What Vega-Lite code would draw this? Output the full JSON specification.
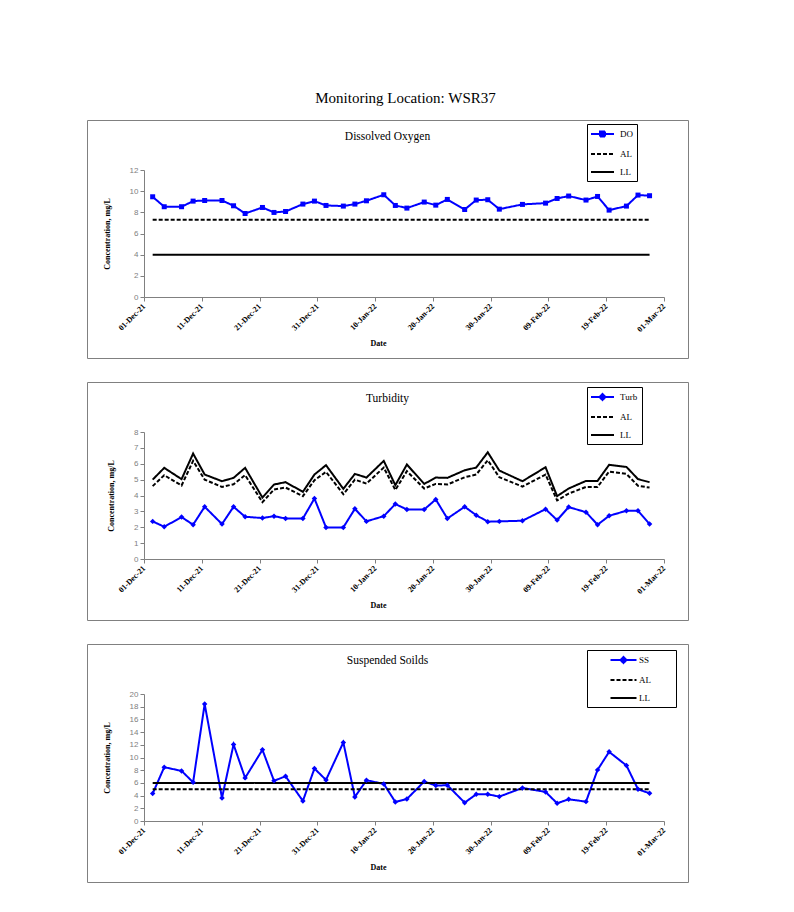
{
 "$schema": "https://vega.github.io/schema/vega-lite/v6.json",
 "background": "white",
 "padding": {"left": 86, "top": 90, "right": 5, "bottom": 5},
 "title": {"text": "Monitoring Location: WSR37", "font": "Liberation Serif", "fontSize": 15, "fontWeight": "normal", "color": "black", "anchor": "middle", "dx": 18, "offset": 14},
 "spacing": 22,
 "resolve": {"scale": {"color": "independent", "strokeDash": "independent", "strokeWidth": "independent", "x": "independent", "y": "independent"}, "legend": {"color": "independent", "strokeDash": "independent"}},
 "config": {"view": {"stroke": "#808080", "strokeWidth": 1}, "axis": {"grid": false}},
 "vconcat": [
  {
   "width": 601, "height": 238,
   "title": {"text": "Dissolved Oxygen", "font": "Liberation Serif", "fontSize": 11.5, "fontWeight": "normal", "color": "black", "anchor": "middle", "frame": "group", "baseline": "middle", "offset": -28},
   "data": {"values": [
    {"date": "2021-12-02T12:00:00", "DO": 9.47, "AL": 7.3, "LL": 4},
    {"date": "2021-12-04T12:00:00", "DO": 8.53, "AL": 7.3, "LL": 4},
    {"date": "2021-12-07T12:00:00", "DO": 8.53, "AL": 7.3, "LL": 4},
    {"date": "2021-12-09T12:00:00", "DO": 9.06, "AL": 7.3, "LL": 4},
    {"date": "2021-12-11T12:00:00", "DO": 9.12, "AL": 7.3, "LL": 4},
    {"date": "2021-12-14T12:00:00", "DO": 9.12, "AL": 7.3, "LL": 4},
    {"date": "2021-12-16T12:00:00", "DO": 8.62, "AL": 7.3, "LL": 4},
    {"date": "2021-12-18T12:00:00", "DO": 7.89, "AL": 7.3, "LL": 4},
    {"date": "2021-12-21T12:00:00", "DO": 8.46, "AL": 7.3, "LL": 4},
    {"date": "2021-12-23T12:00:00", "DO": 7.99, "AL": 7.3, "LL": 4},
    {"date": "2021-12-25T12:00:00", "DO": 8.08, "AL": 7.3, "LL": 4},
    {"date": "2021-12-28T12:00:00", "DO": 8.78, "AL": 7.3, "LL": 4},
    {"date": "2021-12-30T12:00:00", "DO": 9.06, "AL": 7.3, "LL": 4},
    {"date": "2022-01-01T12:00:00", "DO": 8.65, "AL": 7.3, "LL": 4},
    {"date": "2022-01-04T12:00:00", "DO": 8.59, "AL": 7.3, "LL": 4},
    {"date": "2022-01-06T12:00:00", "DO": 8.78, "AL": 7.3, "LL": 4},
    {"date": "2022-01-08T12:00:00", "DO": 9.09, "AL": 7.3, "LL": 4},
    {"date": "2022-01-11T12:00:00", "DO": 9.66, "AL": 7.3, "LL": 4},
    {"date": "2022-01-13T12:00:00", "DO": 8.65, "AL": 7.3, "LL": 4},
    {"date": "2022-01-15T12:00:00", "DO": 8.4, "AL": 7.3, "LL": 4},
    {"date": "2022-01-18T12:00:00", "DO": 8.97, "AL": 7.3, "LL": 4},
    {"date": "2022-01-20T12:00:00", "DO": 8.68, "AL": 7.3, "LL": 4},
    {"date": "2022-01-22T12:00:00", "DO": 9.22, "AL": 7.3, "LL": 4},
    {"date": "2022-01-25T12:00:00", "DO": 8.27, "AL": 7.3, "LL": 4},
    {"date": "2022-01-27T12:00:00", "DO": 9.16, "AL": 7.3, "LL": 4},
    {"date": "2022-01-29T12:00:00", "DO": 9.19, "AL": 7.3, "LL": 4},
    {"date": "2022-01-31T12:00:00", "DO": 8.3, "AL": 7.3, "LL": 4},
    {"date": "2022-02-04T12:00:00", "DO": 8.75, "AL": 7.3, "LL": 4},
    {"date": "2022-02-08T12:00:00", "DO": 8.87, "AL": 7.3, "LL": 4},
    {"date": "2022-02-10T12:00:00", "DO": 9.31, "AL": 7.3, "LL": 4},
    {"date": "2022-02-12T12:00:00", "DO": 9.54, "AL": 7.3, "LL": 4},
    {"date": "2022-02-15T12:00:00", "DO": 9.16, "AL": 7.3, "LL": 4},
    {"date": "2022-02-17T12:00:00", "DO": 9.5, "AL": 7.3, "LL": 4},
    {"date": "2022-02-19T12:00:00", "DO": 8.21, "AL": 7.3, "LL": 4},
    {"date": "2022-02-22T12:00:00", "DO": 8.59, "AL": 7.3, "LL": 4},
    {"date": "2022-02-24T12:00:00", "DO": 9.63, "AL": 7.3, "LL": 4},
    {"date": "2022-02-26T12:00:00", "DO": 9.57, "AL": 7.3, "LL": 4}
   ]},
   "transform": [{"fold": ["DO", "AL", "LL"], "as": ["series", "value"]}],
   "encoding": {
    "x": {"field": "date", "type": "temporal",
     "scale": {"domain": [{"year": 2021, "month": 12, "date": 1}, {"year": 2022, "month": 3, "date": 1}], "range": [57, 577]},
     "axis": {"values": [{"year": 2021, "month": 12, "date": 1}, {"year": 2021, "month": 12, "date": 11}, {"year": 2021, "month": 12, "date": 21}, {"year": 2021, "month": 12, "date": 31}, {"year": 2022, "month": 1, "date": 10}, {"year": 2022, "month": 1, "date": 20}, {"year": 2022, "month": 1, "date": 30}, {"year": 2022, "month": 2, "date": 9}, {"year": 2022, "month": 2, "date": 19}, {"year": 2022, "month": 3, "date": 1}],
      "format": "%d-%b-%y", "labelAngle": -45, "labelAlign": "right", "labelBaseline": "middle", "labelPadding": 4, "labelFont": "Liberation Serif", "labelFontWeight": "bold", "labelFontSize": 8, "labelColor": "black", "labelOverlap": false, "labelFlush": false, "tickSize": 4, "tickColor": "#808080", "domainColor": "#808080", "offset": -61,
      "title": "Date", "titleFont": "Liberation Serif", "titleFontWeight": "bold", "titleFontSize": 8, "titleColor": "black", "titleX": 291, "titleY": 42}},
    "y": {"field": "value", "type": "quantitative",
     "scale": {"domain": [0, 12], "range": [177, 50], "nice": false},
     "axis": {"values": [0, 2, 4, 6, 8, 10, 12], "labelFont": "Liberation Sans", "labelFontSize": 8, "labelColor": "#808080", "tickSize": 4, "tickColor": "#808080", "domainColor": "#808080", "offset": -57,
      "title": "Concentration, mg/L", "titleFont": "Liberation Serif", "titleFontWeight": "bold", "titleFontSize": 8, "titleColor": "black", "titlePadding": 18}}
   },
   "layer": [
    {"mark": {"type": "line"},
     "encoding": {
      "strokeWidth": {"field": "series", "type": "nominal", "scale": {"domain": ["DO", "AL", "LL"], "range": [2, 2, 2.5]}, "legend": null},
      "color": {"field": "series", "type": "nominal", "scale": {"domain": ["DO", "AL", "LL"], "range": ["#0000ff", "black", "black"]},
       "legend": {"orient": "none", "legendX": 500, "legendY": 4, "title": null, "strokeColor": "black", "padding": 4, "symbolSize": 100, "symbolStrokeWidth": 2, "labelOffset": 17, "labelFont": "Liberation Serif", "labelFontSize": 9, "labelColor": "black", "rowPadding": 7,
        "encode": {"symbols": {"update": {"shape": {"signal": "datum.value === 'DO' ? 'M-1.2,0H3.4M0.6,-0.5H1.6V0.5H0.6Z' : 'M-1.2,0H3.4'"}, "fill": {"signal": "datum.value === 'DO' ? '#0000ff' : 'transparent'"}}}}}},
      "strokeDash": {"field": "series", "type": "nominal", "scale": {"domain": ["DO", "AL", "LL"], "range": [[1, 0], [4, 2], [1, 0]]},
       "legend": {"orient": "none", "legendX": 500, "legendY": 4, "title": null, "strokeColor": "black", "padding": 4, "symbolSize": 100, "symbolStrokeWidth": 2, "labelOffset": 17, "labelFont": "Liberation Serif", "labelFontSize": 9, "labelColor": "black", "rowPadding": 7,
        "encode": {"symbols": {"update": {"shape": {"signal": "datum.value === 'DO' ? 'M-1.2,0H3.4M0.6,-0.5H1.6V0.5H0.6Z' : 'M-1.2,0H3.4'"}, "fill": {"signal": "datum.value === 'DO' ? '#0000ff' : 'transparent'"}}}}}}
     }},
    {"transform": [{"filter": "datum.series === 'DO'"}],
     "mark": {"type": "point", "shape": "square", "filled": true, "size": 25, "color": "#0000ff", "opacity": 1}}
   ]
  },
  {
   "width": 601, "height": 238,
   "title": {"text": "Turbidity", "font": "Liberation Serif", "fontSize": 11.5, "fontWeight": "normal", "color": "black", "anchor": "middle", "frame": "group", "baseline": "middle", "offset": -28},
   "data": {"values": [
    {"date": "2021-12-02T12:00:00", "Turb": 2.37, "AL": 4.59, "LL": 5.0},
    {"date": "2021-12-04T12:00:00", "Turb": 2.03, "AL": 5.28, "LL": 5.74},
    {"date": "2021-12-07T12:00:00", "Turb": 2.64, "AL": 4.63, "LL": 5.03},
    {"date": "2021-12-09T12:00:00", "Turb": 2.16, "AL": 6.18, "LL": 6.64},
    {"date": "2021-12-11T12:00:00", "Turb": 3.29, "AL": 5.0, "LL": 5.32},
    {"date": "2021-12-14T12:00:00", "Turb": 2.2, "AL": 4.54, "LL": 4.9},
    {"date": "2021-12-16T12:00:00", "Turb": 3.29, "AL": 4.71, "LL": 5.11},
    {"date": "2021-12-18T12:00:00", "Turb": 2.66, "AL": 5.28, "LL": 5.74},
    {"date": "2021-12-21T12:00:00", "Turb": 2.58, "AL": 3.58, "LL": 3.87},
    {"date": "2021-12-23T12:00:00", "Turb": 2.7, "AL": 4.38, "LL": 4.69},
    {"date": "2021-12-25T12:00:00", "Turb": 2.55, "AL": 4.5, "LL": 4.84},
    {"date": "2021-12-28T12:00:00", "Turb": 2.55, "AL": 3.96, "LL": 4.23},
    {"date": "2021-12-30T12:00:00", "Turb": 3.81, "AL": 4.96, "LL": 5.32},
    {"date": "2022-01-01T12:00:00", "Turb": 1.99, "AL": 5.49, "LL": 5.91},
    {"date": "2022-01-04T12:00:00", "Turb": 1.99, "AL": 4.08, "LL": 4.42},
    {"date": "2022-01-06T12:00:00", "Turb": 3.16, "AL": 5.0, "LL": 5.36},
    {"date": "2022-01-08T12:00:00", "Turb": 2.37, "AL": 4.75, "LL": 5.13},
    {"date": "2022-01-11T12:00:00", "Turb": 2.7, "AL": 5.76, "LL": 6.18},
    {"date": "2022-01-13T12:00:00", "Turb": 3.46, "AL": 4.35, "LL": 4.65},
    {"date": "2022-01-15T12:00:00", "Turb": 3.12, "AL": 5.53, "LL": 5.95},
    {"date": "2022-01-18T12:00:00", "Turb": 3.12, "AL": 4.44, "LL": 4.73},
    {"date": "2022-01-20T12:00:00", "Turb": 3.75, "AL": 4.73, "LL": 5.13},
    {"date": "2022-01-22T12:00:00", "Turb": 2.55, "AL": 4.69, "LL": 5.11},
    {"date": "2022-01-25T12:00:00", "Turb": 3.29, "AL": 5.15, "LL": 5.59},
    {"date": "2022-01-27T12:00:00", "Turb": 2.76, "AL": 5.32, "LL": 5.76},
    {"date": "2022-01-29T12:00:00", "Turb": 2.35, "AL": 6.22, "LL": 6.72},
    {"date": "2022-01-31T12:00:00", "Turb": 2.37, "AL": 5.15, "LL": 5.57},
    {"date": "2022-02-04T12:00:00", "Turb": 2.41, "AL": 4.56, "LL": 4.9},
    {"date": "2022-02-08T12:00:00", "Turb": 3.14, "AL": 5.32, "LL": 5.78},
    {"date": "2022-02-10T12:00:00", "Turb": 2.45, "AL": 3.69, "LL": 3.96},
    {"date": "2022-02-12T12:00:00", "Turb": 3.27, "AL": 4.12, "LL": 4.44},
    {"date": "2022-02-15T12:00:00", "Turb": 2.95, "AL": 4.54, "LL": 4.92},
    {"date": "2022-02-17T12:00:00", "Turb": 2.16, "AL": 4.54, "LL": 4.92},
    {"date": "2022-02-19T12:00:00", "Turb": 2.72, "AL": 5.51, "LL": 5.93},
    {"date": "2022-02-22T12:00:00", "Turb": 3.04, "AL": 5.36, "LL": 5.8},
    {"date": "2022-02-24T12:00:00", "Turb": 3.04, "AL": 4.61, "LL": 5.03},
    {"date": "2022-02-26T12:00:00", "Turb": 2.2, "AL": 4.5, "LL": 4.84}
   ]},
   "transform": [{"fold": ["Turb", "AL", "LL"], "as": ["series", "value"]}],
   "encoding": {
    "x": {"field": "date", "type": "temporal",
     "scale": {"domain": [{"year": 2021, "month": 12, "date": 1}, {"year": 2022, "month": 3, "date": 1}], "range": [57, 577]},
     "axis": {"values": [{"year": 2021, "month": 12, "date": 1}, {"year": 2021, "month": 12, "date": 11}, {"year": 2021, "month": 12, "date": 21}, {"year": 2021, "month": 12, "date": 31}, {"year": 2022, "month": 1, "date": 10}, {"year": 2022, "month": 1, "date": 20}, {"year": 2022, "month": 1, "date": 30}, {"year": 2022, "month": 2, "date": 9}, {"year": 2022, "month": 2, "date": 19}, {"year": 2022, "month": 3, "date": 1}],
      "format": "%d-%b-%y", "labelAngle": -45, "labelAlign": "right", "labelBaseline": "middle", "labelPadding": 4, "labelFont": "Liberation Serif", "labelFontWeight": "bold", "labelFontSize": 8, "labelColor": "black", "labelOverlap": false, "labelFlush": false, "tickSize": 4, "tickColor": "#808080", "domainColor": "#808080", "offset": -61,
      "title": "Date", "titleFont": "Liberation Serif", "titleFontWeight": "bold", "titleFontSize": 8, "titleColor": "black", "titleX": 291, "titleY": 42}},
    "y": {"field": "value", "type": "quantitative",
     "scale": {"domain": [0, 8], "range": [177, 50], "nice": false},
     "axis": {"values": [0, 1, 2, 3, 4, 5, 6, 7, 8], "labelFont": "Liberation Sans", "labelFontSize": 8, "labelColor": "#808080", "tickSize": 4, "tickColor": "#808080", "domainColor": "#808080", "offset": -57,
      "title": "Concentration, mg/L", "titleFont": "Liberation Serif", "titleFontWeight": "bold", "titleFontSize": 8, "titleColor": "black", "titlePadding": 18}}
   },
   "layer": [
    {"mark": {"type": "line"},
     "encoding": {
      "strokeWidth": {"field": "series", "type": "nominal", "scale": {"domain": ["Turb", "AL", "LL"], "range": [2, 2, 2.5]}, "legend": null},
      "color": {"field": "series", "type": "nominal", "scale": {"domain": ["Turb", "AL", "LL"], "range": ["#0000ff", "black", "black"]},
       "legend": {"orient": "none", "legendX": 500, "legendY": 5, "title": null, "strokeColor": "black", "padding": 4, "symbolSize": 100, "symbolStrokeWidth": 2, "labelOffset": 17, "labelFont": "Liberation Serif", "labelFontSize": 9, "labelColor": "black", "rowPadding": 7,
        "encode": {"symbols": {"update": {"shape": {"signal": "datum.value === 'Turb' ? 'M-1.2,0H3.4M1.1,-0.6L1.7,0L1.1,0.6L0.5,0Z' : 'M-1.2,0H3.4'"}, "fill": {"signal": "datum.value === 'Turb' ? '#0000ff' : 'transparent'"}}}}}},
      "strokeDash": {"field": "series", "type": "nominal", "scale": {"domain": ["Turb", "AL", "LL"], "range": [[1, 0], [4, 2], [1, 0]]},
       "legend": {"orient": "none", "legendX": 500, "legendY": 5, "title": null, "strokeColor": "black", "padding": 4, "symbolSize": 100, "symbolStrokeWidth": 2, "labelOffset": 17, "labelFont": "Liberation Serif", "labelFontSize": 9, "labelColor": "black", "rowPadding": 7,
        "encode": {"symbols": {"update": {"shape": {"signal": "datum.value === 'Turb' ? 'M-1.2,0H3.4M1.1,-0.6L1.7,0L1.1,0.6L0.5,0Z' : 'M-1.2,0H3.4'"}, "fill": {"signal": "datum.value === 'Turb' ? '#0000ff' : 'transparent'"}}}}}}
     }},
    {"transform": [{"filter": "datum.series === 'Turb'"}],
     "mark": {"type": "point", "shape": "diamond", "filled": true, "size": 30, "color": "#0000ff", "opacity": 1}}
   ]
  },
  {
   "width": 601, "height": 238,
   "title": {"text": "Suspended Soilds", "font": "Liberation Serif", "fontSize": 11.5, "fontWeight": "normal", "color": "black", "anchor": "middle", "frame": "group", "baseline": "middle", "offset": -28},
   "data": {"values": [
    {"date": "2021-12-02T12:00:00", "SS": 4.32, "AL": 5, "LL": 6},
    {"date": "2021-12-04T12:00:00", "SS": 8.47, "AL": 5, "LL": 6},
    {"date": "2021-12-07T12:00:00", "SS": 7.89, "AL": 5, "LL": 6},
    {"date": "2021-12-09T12:00:00", "SS": 6.1, "AL": 5, "LL": 6},
    {"date": "2021-12-11T12:00:00", "SS": 18.42, "AL": 5, "LL": 6},
    {"date": "2021-12-14T12:00:00", "SS": 3.63, "AL": 5, "LL": 6},
    {"date": "2021-12-16T12:00:00", "SS": 12.05, "AL": 5, "LL": 6},
    {"date": "2021-12-18T12:00:00", "SS": 6.79, "AL": 5, "LL": 6},
    {"date": "2021-12-21T12:00:00", "SS": 11.21, "AL": 5, "LL": 6},
    {"date": "2021-12-23T12:00:00", "SS": 6.32, "AL": 5, "LL": 6},
    {"date": "2021-12-25T12:00:00", "SS": 7.05, "AL": 5, "LL": 6},
    {"date": "2021-12-28T12:00:00", "SS": 3.16, "AL": 5, "LL": 6},
    {"date": "2021-12-30T12:00:00", "SS": 8.26, "AL": 5, "LL": 6},
    {"date": "2022-01-01T12:00:00", "SS": 6.47, "AL": 5, "LL": 6},
    {"date": "2022-01-04T12:00:00", "SS": 12.37, "AL": 5, "LL": 6},
    {"date": "2022-01-06T12:00:00", "SS": 3.79, "AL": 5, "LL": 6},
    {"date": "2022-01-08T12:00:00", "SS": 6.42, "AL": 5, "LL": 6},
    {"date": "2022-01-11T12:00:00", "SS": 5.84, "AL": 5, "LL": 6},
    {"date": "2022-01-13T12:00:00", "SS": 3.0, "AL": 5, "LL": 6},
    {"date": "2022-01-15T12:00:00", "SS": 3.47, "AL": 5, "LL": 6},
    {"date": "2022-01-18T12:00:00", "SS": 6.21, "AL": 5, "LL": 6},
    {"date": "2022-01-20T12:00:00", "SS": 5.58, "AL": 5, "LL": 6},
    {"date": "2022-01-22T12:00:00", "SS": 5.63, "AL": 5, "LL": 6},
    {"date": "2022-01-25T12:00:00", "SS": 2.89, "AL": 5, "LL": 6},
    {"date": "2022-01-27T12:00:00", "SS": 4.21, "AL": 5, "LL": 6},
    {"date": "2022-01-29T12:00:00", "SS": 4.21, "AL": 5, "LL": 6},
    {"date": "2022-01-31T12:00:00", "SS": 3.84, "AL": 5, "LL": 6},
    {"date": "2022-02-04T12:00:00", "SS": 5.21, "AL": 5, "LL": 6},
    {"date": "2022-02-08T12:00:00", "SS": 4.58, "AL": 5, "LL": 6},
    {"date": "2022-02-10T12:00:00", "SS": 2.79, "AL": 5, "LL": 6},
    {"date": "2022-02-12T12:00:00", "SS": 3.42, "AL": 5, "LL": 6},
    {"date": "2022-02-15T12:00:00", "SS": 3.05, "AL": 5, "LL": 6},
    {"date": "2022-02-17T12:00:00", "SS": 8.05, "AL": 5, "LL": 6},
    {"date": "2022-02-19T12:00:00", "SS": 10.89, "AL": 5, "LL": 6},
    {"date": "2022-02-22T12:00:00", "SS": 8.74, "AL": 5, "LL": 6},
    {"date": "2022-02-24T12:00:00", "SS": 5.0, "AL": 5, "LL": 6},
    {"date": "2022-02-26T12:00:00", "SS": 4.37, "AL": 5, "LL": 6}
   ]},
   "transform": [{"fold": ["SS", "AL", "LL"], "as": ["series", "value"]}],
   "encoding": {
    "x": {"field": "date", "type": "temporal",
     "scale": {"domain": [{"year": 2021, "month": 12, "date": 1}, {"year": 2022, "month": 3, "date": 1}], "range": [57, 577]},
     "axis": {"values": [{"year": 2021, "month": 12, "date": 1}, {"year": 2021, "month": 12, "date": 11}, {"year": 2021, "month": 12, "date": 21}, {"year": 2021, "month": 12, "date": 31}, {"year": 2022, "month": 1, "date": 10}, {"year": 2022, "month": 1, "date": 20}, {"year": 2022, "month": 1, "date": 30}, {"year": 2022, "month": 2, "date": 9}, {"year": 2022, "month": 2, "date": 19}, {"year": 2022, "month": 3, "date": 1}],
      "format": "%d-%b-%y", "labelAngle": -45, "labelAlign": "right", "labelBaseline": "middle", "labelPadding": 4, "labelFont": "Liberation Serif", "labelFontWeight": "bold", "labelFontSize": 8, "labelColor": "black", "labelOverlap": false, "labelFlush": false, "tickSize": 4, "tickColor": "#808080", "domainColor": "#808080", "offset": -61,
      "title": "Date", "titleFont": "Liberation Serif", "titleFontWeight": "bold", "titleFontSize": 8, "titleColor": "black", "titleX": 291, "titleY": 42}},
    "y": {"field": "value", "type": "quantitative",
     "scale": {"domain": [0, 20], "range": [177, 50], "nice": false},
     "axis": {"values": [0, 2, 4, 6, 8, 10, 12, 14, 16, 18, 20], "labelFont": "Liberation Sans", "labelFontSize": 8, "labelColor": "#808080", "tickSize": 4, "tickColor": "#808080", "domainColor": "#808080", "offset": -57,
      "title": "Concentration, mg/L", "titleFont": "Liberation Serif", "titleFontWeight": "bold", "titleFontSize": 8, "titleColor": "black", "titlePadding": 18}}
   },
   "layer": [
    {"mark": {"type": "line"},
     "encoding": {
      "strokeWidth": {"field": "series", "type": "nominal", "scale": {"domain": ["SS", "AL", "LL"], "range": [2, 2, 2.5]}, "legend": null},
      "color": {"field": "series", "type": "nominal", "scale": {"domain": ["SS", "AL", "LL"], "range": ["#0000ff", "black", "black"]},
       "legend": {"orient": "none", "legendX": 500, "legendY": 6, "title": null, "strokeColor": "black", "padding": 4, "symbolSize": 100, "symbolStrokeWidth": 2, "labelOffset": 36, "labelFont": "Liberation Serif", "labelFontSize": 9, "labelColor": "black", "rowPadding": 7,
        "encode": {"symbols": {"update": {"shape": {"signal": "datum.value === 'SS' ? 'M2.7,0H7.9M5.3,-0.6L5.9,0L5.3,0.6L4.7,0ZM14.2,0' : 'M2.7,0H7.9M14.2,0'"}, "fill": {"signal": "datum.value === 'SS' ? '#0000ff' : 'transparent'"}}}}}},
      "strokeDash": {"field": "series", "type": "nominal", "scale": {"domain": ["SS", "AL", "LL"], "range": [[1, 0], [4, 2], [1, 0]]},
       "legend": {"orient": "none", "legendX": 500, "legendY": 6, "title": null, "strokeColor": "black", "padding": 4, "symbolSize": 100, "symbolStrokeWidth": 2, "labelOffset": 36, "labelFont": "Liberation Serif", "labelFontSize": 9, "labelColor": "black", "rowPadding": 7,
        "encode": {"symbols": {"update": {"shape": {"signal": "datum.value === 'SS' ? 'M2.7,0H7.9M5.3,-0.6L5.9,0L5.3,0.6L4.7,0ZM14.2,0' : 'M2.7,0H7.9M14.2,0'"}, "fill": {"signal": "datum.value === 'SS' ? '#0000ff' : 'transparent'"}}}}}}
     }},
    {"transform": [{"filter": "datum.series === 'SS'"}],
     "mark": {"type": "point", "shape": "diamond", "filled": true, "size": 30, "color": "#0000ff", "opacity": 1}}
   ]
  }
 ]
}
